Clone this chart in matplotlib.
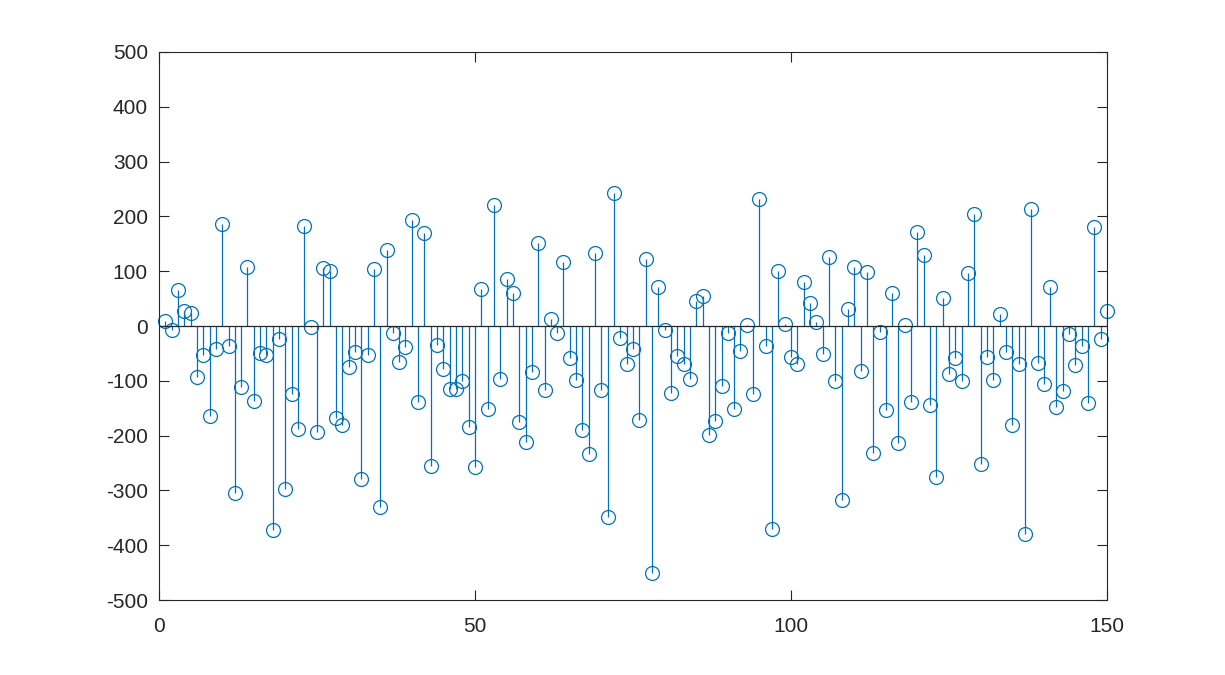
import numpy as np
import matplotlib
matplotlib.use("Agg")
import matplotlib.pyplot as plt

# stem values, n = 1..150
vals = [10, -7, 65, 28, 24, -93, -53, -165, -42, 187,
        -37, -305, -111, 107, -137, -49, -53, -373, -24, -298,
        -124, -188, 183, -2, -193, 106, 101, -168, -181, -74,
        -48, -280, -52, 104, -331, 138, -12, -65, -39, 194,
        -139, 169, -255, -35, -79, -114, -115, -100, -185, -258,
        68, -152, 221, -97, 85, 61, -175, -211, -83, 152,
        -116, 12, -12, 117, -58, -98, -190, -233, 133, -117,
        -348, 243, -22, -70, -42, -171, 123, -450, 71, -8,
        -122, -54, -69, -96, 46, 54, -199, -173, -109, -12,
        -152, -46, 2, -124, 232, -36, -371, 101, 4, -57,
        -69, 80, 42, 8, -51, 126, -101, -317, 31, 108,
        -82, 99, -231, -11, -153, 61, -213, 2, -139, 171,
        129, -145, -275, 51, -88, -59, -101, 97, 205, -251,
        -56, -98, 22, -47, -181, -69, -380, 214, -68, -106,
        72, -148, -119, -15, -71, -36, -140, 181, -23, 27]
n = np.arange(1, len(vals) + 1)

xticks = [0, 50, 100, 150]
yticks = list(range(-500, 501, 100))

blue = '#0072BD'
axcol = '#262626'

plt.rcParams['font.family'] = ['Liberation Sans', 'DejaVu Sans']
plt.rcParams['axes.unicode_minus'] = False

fig = plt.figure(figsize=(12.25, 6.75), dpi=100)
ax = fig.add_axes([0.1298, 0.111, 0.7739, 0.812])

markerline, stemlines, baseline = ax.stem(n, vals, basefmt='-')
plt.setp(stemlines, color=blue, linewidth=0.9)
plt.setp(markerline, marker='o', markersize=10, markerfacecolor='none',
         markeredgecolor=blue, markeredgewidth=0.9, clip_on=False)
plt.setp(baseline, color=axcol, linewidth=0.9, xdata=[0, 150])

ax.set_xlim(0, 150)
ax.set_ylim(-500, 500)
ax.set_xticks(xticks)
ax.set_yticks(yticks)

for s in ax.spines.values():
    s.set_color(axcol)
    s.set_linewidth(0.8)
ax.tick_params(direction='in', length=7, width=0.8, color=axcol,
               labelcolor=axcol, labelsize=15, top=True, right=True)
ax.tick_params(axis='x', pad=12)
ax.tick_params(axis='y', pad=8)

fig.savefig('out.png', dpi=100)
